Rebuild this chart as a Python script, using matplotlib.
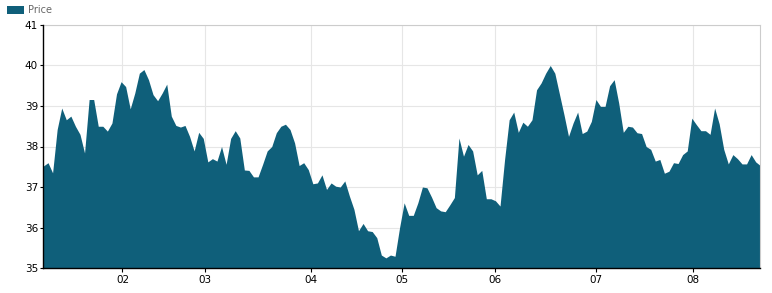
import numpy as np
import matplotlib
matplotlib.use("Agg")
import matplotlib.pyplot as plt

# price readings, one per sample (index based x axis)
price = [
    37.52, 37.60, 37.35, 38.42, 38.95, 38.66, 38.75, 38.50, 38.30, 37.84,
    39.16, 39.16, 38.50, 38.50, 38.38, 38.58, 39.30, 39.60, 39.48, 38.93,
    39.32, 39.81, 39.90, 39.65, 39.28, 39.13, 39.32, 39.54, 38.75, 38.52,
    38.48, 38.52, 38.25, 37.89, 38.35, 38.20, 37.62, 37.70, 37.64, 38.00,
    37.56, 38.20, 38.39, 38.21, 37.42, 37.41, 37.25, 37.25, 37.56, 37.89,
    38.00, 38.34, 38.50, 38.55,
    38.42, 38.09, 37.53, 37.60, 37.43, 37.08, 37.10, 37.30, 36.94, 37.10,
    37.02, 37.00, 37.15, 36.78, 36.45, 35.92, 36.10, 35.92, 35.90, 35.75,
    35.32, 35.25, 35.32, 35.29, 36.00, 36.61, 36.30, 36.30, 36.61, 37.00,
    36.98, 36.75, 36.49, 36.41, 36.39, 36.56, 36.74, 38.21, 37.76, 38.05,
    37.89, 37.30, 37.41, 36.71, 36.71, 36.66, 36.53, 37.68, 38.66, 38.85,
    38.35, 38.60,
    38.50, 38.66, 39.40, 39.57, 39.81, 40.00, 39.81, 39.30, 38.79, 38.25,
    38.58, 38.85, 38.32, 38.38, 38.62, 39.16, 38.99, 38.99, 39.50, 39.65,
    39.07, 38.35, 38.50, 38.48, 38.34, 38.32, 38.00, 37.93, 37.64, 37.68,
    37.34, 37.39, 37.60, 37.58, 37.80, 37.89, 38.70, 38.54, 38.39, 38.39,
    38.30, 38.95, 38.56, 37.93, 37.57, 37.80, 37.70, 37.57, 37.57, 37.80,
    37.62, 37.53,
]
# month labels and the sample position where each month starts
month_labels = ["02", "03", "04", "05", "06", "07", "08"]
month_pos = [17.3, 35.3, 58.6, 78.6, 98.8, 121.0, 142.2]
y_ticks = [35, 36, 37, 38, 39, 40, 41]

fill_col = "#0f5f7a"

fig = plt.figure(figsize=(7.72, 2.93), dpi=100)
ax = fig.add_axes([0.0563, 0.0853, 0.9285, 0.8294])

x = np.arange(len(price))
ax.fill_between(x, price, 35, color=fill_col, linewidth=0, label="Price", zorder=2)

ax.set_xlim(0, len(price) - 1)
ax.set_ylim(35, 41)
ax.set_xticks(month_pos)
ax.set_xticklabels(month_labels)
ax.set_yticks(y_ticks)

ax.grid(True, color="#e6e6e6", linewidth=0.8, zorder=0)
ax.set_axisbelow(True)

for side in ["top", "right"]:
    ax.spines[side].set_color("#cccccc")
    ax.spines[side].set_linewidth(0.8)
for side in ["left", "bottom"]:
    ax.spines[side].set_color("black")
    ax.spines[side].set_linewidth(1.0)
    ax.spines[side].set_zorder(3)

ax.tick_params(axis="both", labelsize=7.5, colors="black", length=3, width=0.8, pad=2)
ax.tick_params(axis="y", length=2)

fig.legend(loc="upper left", bbox_to_anchor=(0.0, 1.005), frameon=False,
           fontsize=7, labelcolor="#666666", handlelength=1.8, handleheight=0.8,
           handletextpad=0.4, borderaxespad=0.3)

plt.savefig("out.png", dpi=100)
